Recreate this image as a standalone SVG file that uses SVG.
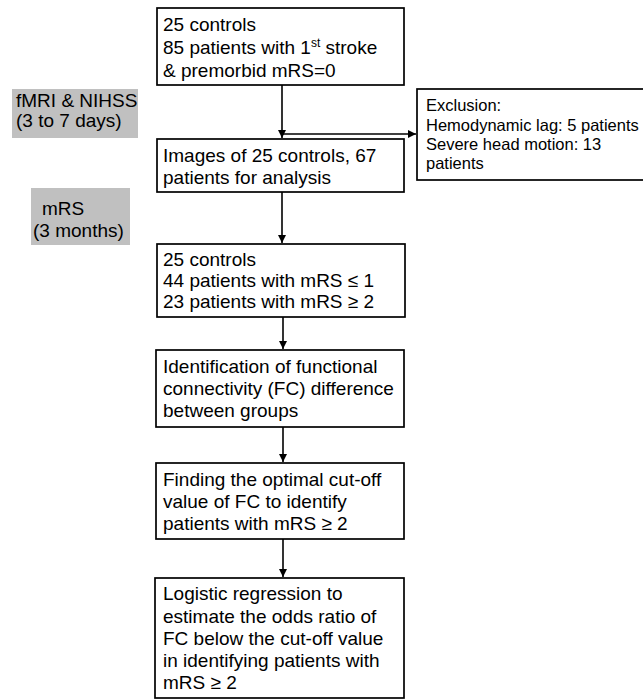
<svg xmlns="http://www.w3.org/2000/svg" width="643" height="700" viewBox="0 0 643 700">
<style>
text{font-family:"Liberation Sans",Arial,sans-serif;font-size:19px;fill:#000}
.box{fill:#fff;stroke:#000;stroke-width:1.7}
.tag{fill:#c0c0c0;stroke:none}
.ex{font-size:16.5px}
.con{stroke:#000;stroke-width:1.6;fill:none}
</style>
<defs>
<marker id="ah" markerWidth="10" markerHeight="10" refX="8" refY="4" orient="auto" markerUnits="userSpaceOnUse">
<path d="M0,0 L8,4 L0,8 Z" fill="#000"/>
</marker>
</defs>
<rect width="643" height="700" fill="#fff"/>
<g id="tag1">
<rect class="tag" x="12" y="89" width="126" height="49"/>
<text x="16" y="107">fMRI &amp; NIHSS</text>
<text x="16" y="127">(3 to 7 days)</text>
</g>
<g id="tag2">
<rect class="tag" x="31" y="188" width="99" height="57"/>
<text x="42" y="215">mRS</text>
<text x="33" y="237">(3 months)</text>
</g>
<g id="connectors">
<line class="con" x1="282" y1="85" x2="282" y2="138" marker-end="url(#ah)"/>
<line class="con" x1="282" y1="134" x2="416" y2="134" marker-end="url(#ah)"/>
<line class="con" x1="282" y1="192" x2="282" y2="243" marker-end="url(#ah)"/>
<line class="con" x1="283" y1="317" x2="283" y2="349" marker-end="url(#ah)"/>
<line class="con" x1="283" y1="427" x2="283" y2="462" marker-end="url(#ah)"/>
<line class="con" x1="283" y1="539" x2="283" y2="577" marker-end="url(#ah)"/>
</g>
<g id="n1">
<rect class="box" x="157" y="8" width="247" height="77"/>
<text x="163" y="31">25 controls</text>
<text x="163" y="54">85 patients with 1<tspan font-size="12" dy="-7">st</tspan><tspan dy="7"> stroke</tspan></text>
<text x="163" y="77">&amp; premorbid mRS=0</text>
</g>
<g id="n2">
<rect class="box" x="157" y="139" width="247" height="53"/>
<text x="163" y="162">Images of 25 controls, 67</text>
<text x="163" y="184">patients for analysis</text>
</g>
<g id="excl">
<rect class="box" x="417" y="89" width="230" height="91"/>
<text class="ex" x="426" y="111">Exclusion:</text>
<text class="ex" x="426" y="131">Hemodynamic lag: 5 patients</text>
<text class="ex" x="426" y="150">Severe head motion: 13</text>
<text class="ex" x="426" y="169">patients</text>
</g>
<g id="n3">
<rect class="box" x="157" y="244" width="248" height="73"/>
<text x="163" y="266">25 controls</text>
<text x="163" y="287">44 patients with mRS ≤ 1</text>
<text x="163" y="308">23 patients with mRS ≥ 2</text>
</g>
<g id="n4">
<rect class="box" x="156" y="350" width="248" height="77"/>
<text x="163" y="373">Identification of functional</text>
<text x="163" y="395">connectivity (FC) difference</text>
<text x="163" y="417">between groups</text>
</g>
<g id="n5">
<rect class="box" x="156" y="463" width="248" height="76"/>
<text x="163" y="486">Finding the optimal cut-off</text>
<text x="163" y="508">value of FC to identify</text>
<text x="163" y="530">patients with mRS ≥ 2</text>
</g>
<g id="n6">
<rect class="box" x="155" y="578" width="249" height="120"/>
<text x="163" y="600">Logistic regression to</text>
<text x="163" y="623">estimate the odds ratio of</text>
<text x="163" y="645">FC below the cut-off value</text>
<text x="163" y="667">in identifying patients with</text>
<text x="163" y="689">mRS ≥ 2</text>
</g>
</svg>
